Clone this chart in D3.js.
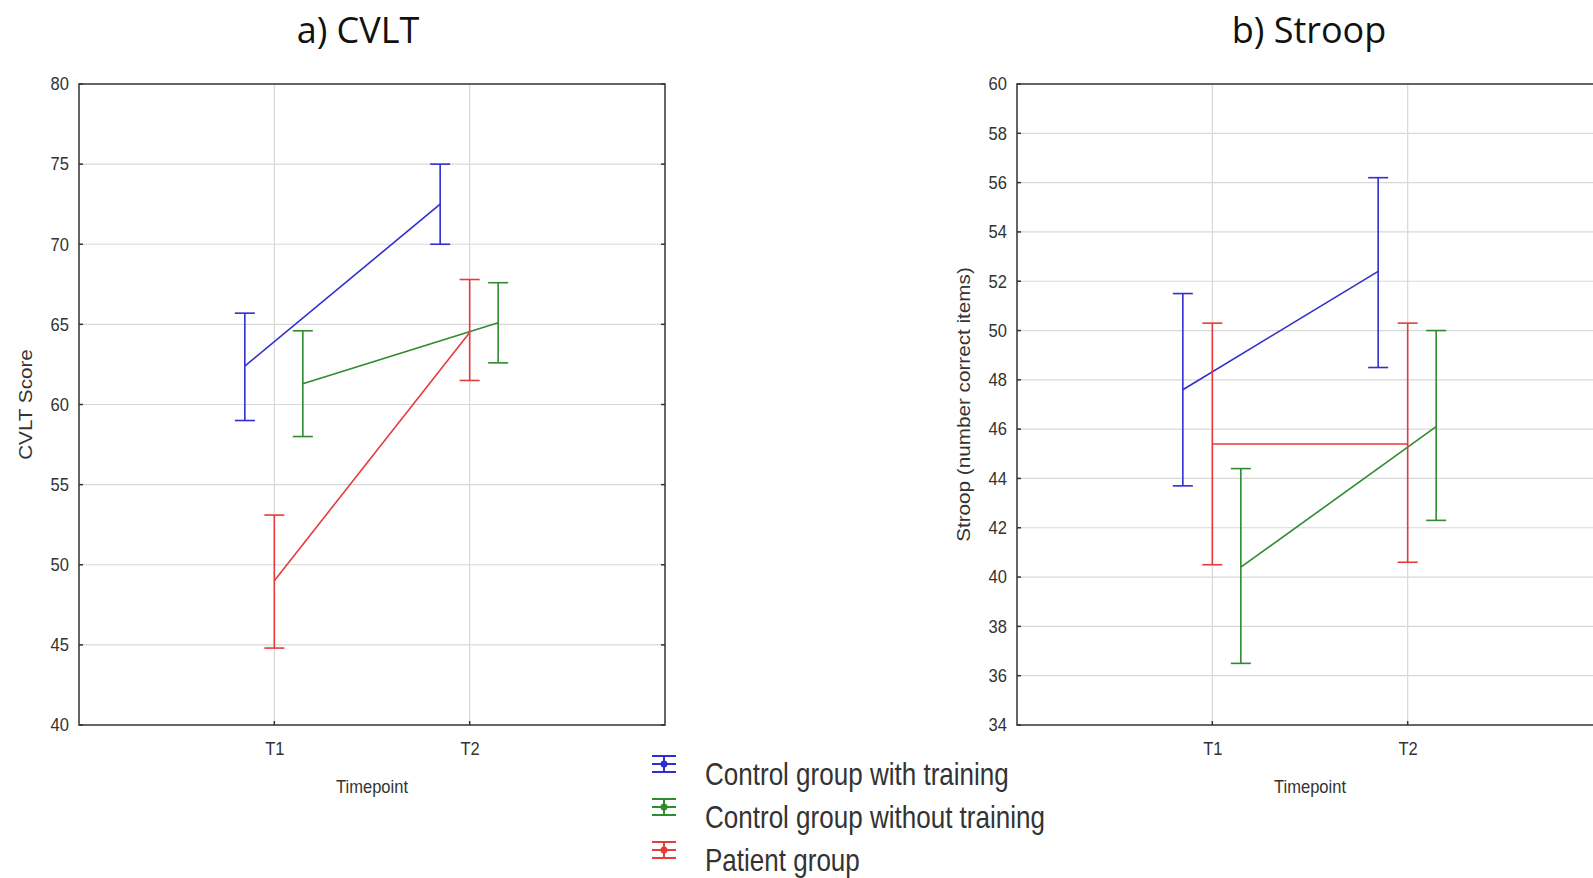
<!DOCTYPE html>
<html>
<head>
<meta charset="utf-8">
<script src="https://cdn.jsdelivr.net/npm/d3@7"></script>
<style>
  body { margin: 0; background: #fff; overflow: hidden; }
  text { font-family: "Liberation Sans", Arial, sans-serif; fill: #333; }
  .title { font-family: "Open Sans", sans-serif; fill: #111; }
</style>
</head>
<body>
<div id="container"></div>
<script>
// data
var timepoints = ["T1", "T2"];
var groups = ["Control group with training", "Control group without training", "Patient group"];
var groupColors = ["#2f2fd0", "#2e8b2e", "#e63b3b"];

var cvltMean  = [[62.4, 72.5], [61.3, 65.1], [49.0, 64.5]];
var cvltUpper = [[65.7, 75.0], [64.6, 67.6], [53.1, 67.8]];
var cvltLower = [[59.0, 70.0], [58.0, 62.6], [44.8, 61.5]];
var cvltTicks = [40, 45, 50, 55, 60, 65, 70, 75, 80];

var stroopMean  = [[47.6, 52.4], [40.4, 46.1], [45.4, 45.4]];
var stroopUpper = [[51.5, 56.2], [44.4, 50.0], [50.3, 50.3]];
var stroopLower = [[43.7, 48.5], [36.5, 42.3], [40.5, 40.6]];
var stroopTicks = [34, 36, 38, 40, 42, 44, 46, 48, 50, 52, 54, 56, 58, 60];

// horizontal dodge per group (px)
var dodge = [-29.5, 28.5, 0];

var W = 1593, H = 878;
var svg = d3.select("#container")
  .append("svg")
    .attr("width", W)
    .attr("height", H);

function drawPanel(p) {
  var x = d3.scalePoint()
    .domain(timepoints)
    .range([p.left, p.left + p.width])
    .padding(1);
  var y = d3.scaleLinear()
    .domain([p.ticks[0], p.ticks[p.ticks.length - 1]])
    .range([p.top + p.height, p.top]);

  var g = svg.append("g");

  // grid
  g.append("g").selectAll("line")
    .data(p.ticks.slice(1, -1))
    .enter().append("line")
      .attr("x1", p.left).attr("x2", p.left + p.width)
      .attr("y1", d => y(d)).attr("y2", d => y(d))
      .style("stroke", "#d8d8d8").style("stroke-width", 1.2);
  g.append("g").selectAll("line")
    .data(timepoints)
    .enter().append("line")
      .attr("x1", d => x(d)).attr("x2", d => x(d))
      .attr("y1", p.top).attr("y2", p.top + p.height)
      .style("stroke", "#d8d8d8").style("stroke-width", 1.2);

  // y axis labels + small inner ticks
  var yAxis = g.append("g")
    .attr("transform", "translate(" + p.left + ",0)")
    .call(d3.axisLeft(y).tickValues(p.ticks).tickSize(0).tickPadding(11));
  yAxis.select(".domain").remove();
  yAxis.selectAll("text").style("font-size", "18px").style("fill", "#333")
    .style("font-family", "'Liberation Sans', Arial, sans-serif")
    .attr("transform", "scale(0.92,1)");

  g.append("g").selectAll("line")
    .data(p.ticks)
    .enter().append("line")
      .attr("x1", p.left).attr("x2", p.left + 4)
      .attr("y1", d => y(d)).attr("y2", d => y(d))
      .style("stroke", "#333").style("stroke-width", 1.5);
  g.append("g").selectAll("line")
    .data(p.ticks)
    .enter().append("line")
      .attr("x1", p.left + p.width - 4).attr("x2", p.left + p.width)
      .attr("y1", d => y(d)).attr("y2", d => y(d))
      .style("stroke", "#333").style("stroke-width", 1.5);

  // x axis
  var xAxis = g.append("g")
    .attr("transform", "translate(0," + (p.top + p.height) + ")")
    .call(d3.axisBottom(x).tickSize(0).tickPadding(17));
  xAxis.select(".domain").remove();
  xAxis.selectAll("text").style("font-size", "18px").style("fill", "#333")
    .style("font-family", "'Liberation Sans', Arial, sans-serif")
    .attr("transform", "scale(0.92,1)");
  g.append("g").selectAll("line")
    .data(timepoints)
    .enter().append("line")
      .attr("x1", d => x(d)).attr("x2", d => x(d))
      .attr("y1", p.top + p.height - 4).attr("y2", p.top + p.height)
      .style("stroke", "#333").style("stroke-width", 1.5);

  // frame
  g.append("rect")
    .attr("x", p.left).attr("y", p.top)
    .attr("width", p.width).attr("height", p.height)
    .style("fill", "none").style("stroke", "#333").style("stroke-width", 1.5);

  // series
  groups.forEach(function(name, i) {
    var pts = timepoints.map(function(t, j) {
      return {cx: x(t) + dodge[i], m: p.mean[i][j], hi: p.upper[i][j], lo: p.lower[i][j]};
    });
    var sg = g.append("g").style("stroke", groupColors[i]).style("stroke-width", 1.6).style("fill", "none");
    sg.append("path")
      .attr("d", d3.line().x(d => d.cx).y(d => y(d.m))(pts));
    pts.forEach(function(d) {
      sg.append("line").attr("x1", d.cx).attr("x2", d.cx).attr("y1", y(d.hi)).attr("y2", y(d.lo));
      sg.append("line").attr("x1", d.cx - 10).attr("x2", d.cx + 10).attr("y1", y(d.hi)).attr("y2", y(d.hi));
      sg.append("line").attr("x1", d.cx - 10).attr("x2", d.cx + 10).attr("y1", y(d.lo)).attr("y2", y(d.lo));
    });
  });

  // titles
  svg.append("text")
    .attr("class", "title")
    .attr("x", p.titleX)
    .attr("y", 43)
    .attr("text-anchor", "middle")
    .style("font-size", "36px")
    .text(p.title);
  svg.append("text")
    .attr("transform", "translate(" + (p.left + p.width / 2) + ",793) scale(0.92,1)")
    .attr("text-anchor", "middle")
    .style("font-size", "18px")
    .text("Timepoint");
  svg.append("text")
    .attr("transform", "translate(" + p.yTitleX + "," + (p.top + p.height / 2) + ") rotate(-90) scale(1.15,1)")
    .attr("text-anchor", "middle")
    .style("font-size", "18px")
    .text(p.yTitle);
}

drawPanel({
  left: 79, top: 84, width: 586, height: 641,
  ticks: cvltTicks, mean: cvltMean, upper: cvltUpper, lower: cvltLower,
  title: "a) CVLT", titleX: 358, yTitle: "CVLT Score", yTitleX: 32
});
drawPanel({
  left: 1017, top: 84, width: 586, height: 641,
  ticks: stroopTicks, mean: stroopMean, upper: stroopUpper, lower: stroopLower,
  title: "b) Stroop", titleX: 1309, yTitle: "Stroop (number correct items)", yTitleX: 970
});

// legend
var legend = svg.append("g").attr("transform", "translate(664,0)");
groups.forEach(function(name, i) {
  var cy = 764 + i * 43;
  var lg = legend.append("g").style("stroke", groupColors[i]).style("stroke-width", 2);
  lg.append("line").attr("x1", -12).attr("x2", 12).attr("y1", cy - 8).attr("y2", cy - 8);
  lg.append("line").attr("x1", -12).attr("x2", 12).attr("y1", cy).attr("y2", cy);
  lg.append("line").attr("x1", -12).attr("x2", 12).attr("y1", cy + 8).attr("y2", cy + 8);
  lg.append("line").attr("x1", 0).attr("x2", 0).attr("y1", cy - 8).attr("y2", cy + 8);
  lg.append("circle").attr("cx", 0).attr("cy", cy).attr("r", 3.5).style("fill", groupColors[i]).style("stroke", "none");
  legend.append("text")
    .attr("transform", "translate(41," + (cy + 21) + ") scale(0.84,1)")
    .style("font-size", "31px")
    .text(name);
});
</script>
</body>
</html>
